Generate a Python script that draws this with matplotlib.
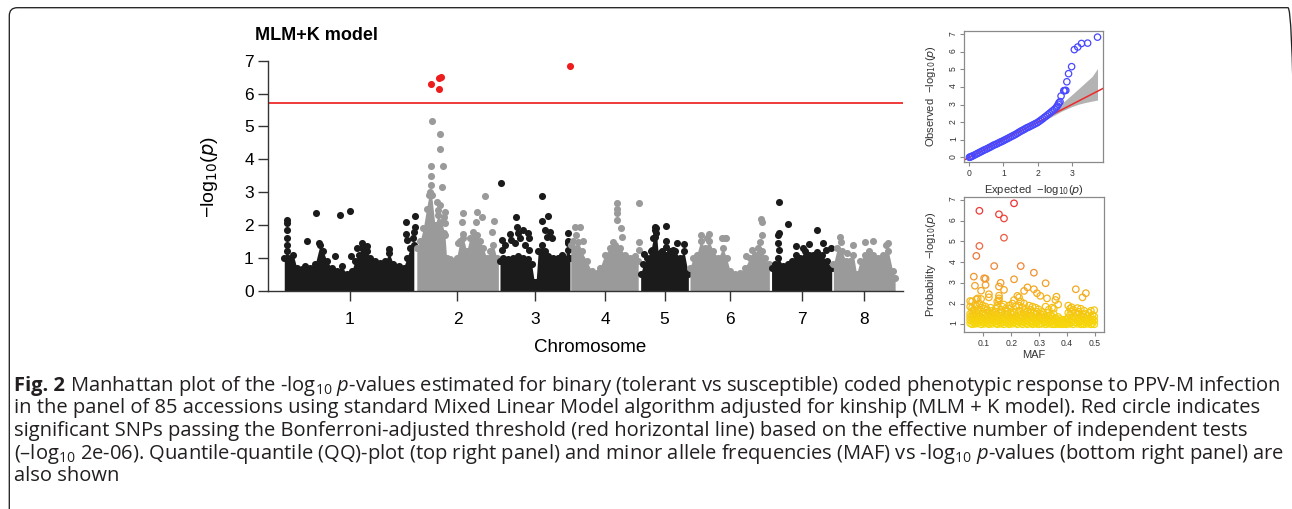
import numpy as np
import matplotlib
matplotlib.use("Agg")
import matplotlib.pyplot as plt
from matplotlib.colors import LinearSegmentedColormap
from matplotlib.patches import FancyBboxPatch
from matplotlib.transforms import IdentityTransform

plt.rcParams['font.family'] = ['Liberation Sans', 'DejaVu Sans']
plt.rcParams['mathtext.fontset'] = 'custom'
plt.rcParams['mathtext.rm'] = 'Open Sans'
plt.rcParams['mathtext.it'] = 'Open Sans:italic'
plt.rcParams['mathtext.bf'] = 'Open Sans:bold'

# Manhattan plot data (peach, 8 chromosomes, positions in Mb)
chrom_names = ['1', '2', '3', '4', '5', '6', '7', '8']
chrom_len = [48.5, 30.8, 26.3, 25.7, 18.1, 30.1, 22.9, 23.3]
threshold = 5.7  # -log10(2e-06)

# top of the dense cloud of non-significant SNPs, per chromosome
env_pos = [
    [0.0, 0.9, 2.1, 3.3, 4.6, 6.4, 7.7, 9.5, 11.4, 13.2, 14.4, 15.7, 17.5, 19.4, 21.2, 23.1,
     24.9, 26.1, 27.4, 28.6, 30.5, 31.7, 33.6, 35.4, 37.3, 38.7, 40.3, 42.2, 44.0, 45.3, 46.5, 47.8],
    [0.4, 1.6, 2.8, 4.0, 4.9, 5.9, 7.1, 8.3, 9.6, 10.8, 11.4, 12.6, 13.9, 15.1, 16.3, 17.6,
     18.8, 20.0, 21.3, 22.5, 23.7, 24.9, 26.2, 27.4, 28.6, 29.9, 30.5],
    [0.3, 1.5, 3.4, 5.2, 7.1, 8.9, 10.7, 12.0, 13.0, 13.6, 14.4, 15.7, 16.9, 18.1, 20.0, 21.8,
     23.0, 24.3, 25.5, 26.1],
    [0.1, 1.0, 2.3, 4.1, 6.0, 7.8, 9.7, 10.9, 12.7, 14.6, 16.4, 18.3, 20.1, 22.0, 23.8, 25.0],
    [0.2, 1.2, 2.6, 3.9, 4.9, 5.9, 6.7, 7.9, 9.5, 11.0, 12.9, 14.7, 16.2, 17.8],
    [0.3, 1.5, 2.8, 4.2, 5.8, 7.4, 8.9, 10.8, 12.4, 13.8, 15.1, 16.9, 18.8, 20.6, 22.4, 24.3,
     25.5, 26.7, 28.0, 29.6],
    [0.3, 1.6, 2.8, 4.6, 6.5, 7.7, 9.3, 10.8, 12.6, 14.2, 15.7, 16.9, 18.8, 20.6, 22.5],
    [0.2, 1.7, 3.3, 4.9, 6.3, 7.6, 8.8, 10.0, 11.9, 13.5, 15.0, 16.8, 18.6, 20.5, 22.1, 23.0],
]
env_top = [
    [1.0, 1.2, 1.0, 1.1, 0.7, 0.65, 0.75, 0.7, 0.8, 1.4, 1.2, 0.9, 0.7, 0.6, 0.75, 0.5,
     0.6, 0.9, 1.1, 1.3, 1.2, 1.0, 0.9, 0.85, 0.9, 1.15, 0.8, 0.75, 0.7, 1.0, 1.3, 1.4],
    [1.3, 1.5, 1.9, 2.5, 2.9, 2.9, 2.0, 2.3, 2.1, 1.7, 1.0, 0.95, 0.9, 1.0, 1.5, 1.6,
     1.2, 1.6, 1.8, 1.7, 1.5, 1.3, 1.0, 1.2, 1.4, 1.0, 0.9],
    [0.9, 1.0, 0.95, 1.0, 1.05, 1.0, 0.95, 0.8, 0.25, 0.25, 1.2, 1.4, 1.2, 1.05, 1.0, 1.0,
     1.1, 0.95, 1.5, 1.0],
    [1.4, 1.5, 1.3, 1.2, 0.9, 0.6, 0.55, 0.7, 1.1, 1.3, 1.4, 1.3, 1.1, 1.0, 1.05, 0.9],
    [0.5, 0.8, 1.0, 1.2, 1.6, 1.9, 1.1, 1.2, 1.1, 1.2, 1.2, 1.0, 1.2, 0.5],
    [0.7, 1.0, 1.1, 1.5, 1.3, 1.5, 1.2, 1.0, 1.3, 1.0, 0.6, 0.5, 0.55, 0.7, 1.0, 1.1,
     1.3, 1.2, 1.0, 0.8],
    [0.7, 0.8, 1.0, 0.75, 0.8, 0.9, 1.1, 1.0, 1.2, 1.1, 1.1, 1.0, 1.1, 0.9, 0.7],
    [0.8, 1.3, 1.2, 0.9, 0.9, 1.1, 0.5, 0.9, 1.1, 1.2, 1.1, 1.0, 1.1, 1.2, 0.6, 0.4],
]

# SNPs standing out above the cloud
snp_pos = [
    [1.0, 1.0, 1.1, 0.9, 0.9, 8.3, 11.7, 12.8, 18.7, 20.6, 24.2, 24.5, 26.7, 28.8, 30.7, 38.6,
     44.8, 44.8, 45.3, 48.3, 48.1, 47.9, 47.6],
    [5.9, 8.9, 8.9, 5.6, 10.2, 5.6, 5.6, 9.8, 5.3, 8.9, 10.8, 10.5, 10.8, 10.5, 17.6, 17.2,
     17.6, 15.7, 22.5, 24.3, 25.6, 29.0, 28.3, 22.1, 8.3, 7.7],
    [0.7, 0.9, 0.9, 4.0, 6.1, 6.4, 7.1, 7.7, 8.9, 10.5, 11.0, 11.0, 5.8, 9.5, 15.7, 15.9,
     17.9, 16.9, 17.5, 18.7, 19.4, 23.0, 25.5, 25.5, 25.5, 4.4, 2.1],
    [1.7, 3.5, 2.0, 2.9, 17.0, 17.3, 17.3, 17.3, 25.2, 18.5, 18.9, 15.8, 4.7, 25.4, 25.4],
    [1.4, 5.5, 5.5, 5.5, 4.3, 9.5, 9.5, 9.5, 13.5, 16.2, 12.0, 7.3, 5.9],
    [4.2, 7.4, 12.0, 13.5, 21.0, 23.1, 26.4, 26.7, 26.7, 26.1, 13.2, 6.5],
    [3.0, 3.2, 2.8, 2.8, 2.9, 6.2, 9.2, 14.0, 16.9, 19.4, 17.2, 22.1, 20.4, 12.0],
    [2.7, 2.9, 7.3, 11.9, 14.7, 19.5, 20.5, 5.1],
]
snp_logp = [
    [2.15, 2.05, 1.85, 1.61, 1.39, 1.51, 2.36, 1.46, 1.05, 2.31, 2.43, 1.06, 1.29, 1.46, 1.36, 1.26,
     2.10, 1.74, 1.55, 2.28, 1.95, 1.80, 1.60],
    [5.16, 4.76, 4.30, 3.80, 3.79, 3.49, 3.22, 3.16, 3.00, 2.61, 2.38, 2.25, 2.05, 1.76, 2.35, 2.08,
     1.74, 1.44, 2.40, 2.25, 2.88, 2.13, 1.80, 2.10, 2.45, 2.70],
    [3.27, 1.54, 1.24, 1.74, 2.25, 1.95, 1.76, 1.59, 1.85, 1.76, 1.59, 1.24, 1.44, 1.39, 2.89, 2.13,
     2.27, 1.85, 1.64, 1.80, 1.59, 1.05, 1.77, 1.44, 1.24, 1.55, 1.38],
    [1.95, 1.95, 1.69, 1.49, 2.68, 2.50, 2.35, 2.15, 2.66, 1.90, 1.64, 1.49, 1.50, 1.49, 1.24],
    [1.12, 1.95, 1.85, 1.64, 1.24, 1.97, 1.52, 1.34, 1.46, 1.41, 1.24, 1.14, 1.75],
    [1.71, 1.74, 1.59, 1.59, 1.06, 1.24, 2.18, 2.10, 1.69, 1.49, 1.59, 1.60],
    [2.71, 1.76, 1.69, 1.44, 1.24, 2.03, 1.37, 1.42, 1.85, 1.44, 1.19, 1.29, 1.25, 1.30],
    [1.64, 1.49, 1.39, 1.49, 1.52, 1.39, 1.44, 1.15],
]

# significant SNPs (above threshold)
sig_chrom = [2, 2, 2, 2, 3]
sig_pos = [5.6, 8.6, 9.2, 8.7, 26.0]
sig_logp = [6.28, 6.46, 6.50, 6.13, 6.84]

# QQ plot
qq_expected = [0.00, 0.03, 0.06, 0.10, 0.15, 0.20, 0.25, 0.30, 0.35, 0.40,
               0.45, 0.50, 0.55, 0.60, 0.65, 0.70, 0.75, 0.80, 0.85, 0.90,
               0.95, 1.00, 1.05, 1.10, 1.15, 1.20, 1.25, 1.30, 1.35, 1.40,
               1.45, 1.50, 1.55, 1.60, 1.65, 1.70, 1.75, 1.80, 1.85, 1.90,
               1.95, 2.00, 2.05, 2.10, 2.15, 2.20, 2.25, 2.30, 2.35, 2.40,
               2.45, 2.50, 2.55, 2.58, 2.61, 2.63, 2.66, 2.69, 2.77, 2.80,
               2.83, 2.86, 2.91, 3.00, 3.08, 3.18, 3.29, 3.47, 3.76]
qq_observed = [0.00, 0.02, 0.05, 0.08, 0.13, 0.18, 0.23, 0.28, 0.33, 0.38,
               0.43, 0.47, 0.52, 0.57, 0.62, 0.68, 0.72, 0.76, 0.81, 0.86,
               0.90, 0.95, 1.00, 1.05, 1.10, 1.15, 1.20, 1.25, 1.30, 1.36,
               1.42, 1.48, 1.53, 1.58, 1.64, 1.69, 1.73, 1.78, 1.83, 1.88,
               1.93, 1.98, 2.05, 2.12, 2.19, 2.27, 2.34, 2.42, 2.50, 2.58,
               2.66, 2.74, 2.84, 2.92, 3.02, 3.10, 3.17, 3.49, 3.79, 3.80,
               3.81, 4.30, 4.76, 5.16, 6.13, 6.28, 6.48, 6.50, 6.84]
band_expected = [2.1, 2.4, 2.7, 3.0, 3.2, 3.4, 3.6, 3.76]
band_upper = [2.15, 2.6, 3.05, 3.55, 3.9, 4.25, 4.6, 5.05]
band_lower = [2.05, 2.3, 2.62, 2.88, 3.02, 3.12, 3.2, 3.26]

# MAF vs -log10(p), SNPs grouped by MAF value
maf_levels = [0.053, 0.060, 0.066, 0.070, 0.075, 0.080, 0.086, 0.092, 0.098, 0.103,
              0.108, 0.114, 0.120, 0.126, 0.132, 0.139, 0.145, 0.150, 0.156, 0.162,
              0.168, 0.174, 0.180, 0.186, 0.192, 0.198, 0.204, 0.210, 0.216, 0.222,
              0.228, 0.234, 0.240, 0.246, 0.252, 0.258, 0.264, 0.270, 0.276, 0.281,
              0.287, 0.292, 0.298, 0.304, 0.310, 0.316, 0.323, 0.328, 0.334, 0.340,
              0.346, 0.352, 0.358, 0.362, 0.368, 0.374, 0.380, 0.386, 0.392, 0.398,
              0.404, 0.410, 0.416, 0.422, 0.431, 0.437, 0.443, 0.449, 0.455, 0.461,
              0.467, 0.473, 0.479, 0.485, 0.491, 0.497]
maf_logp = [
    [1.05, 1.2, 1.35, 1.5, 1.85, 2.12], [1.0, 1.15, 1.3, 1.45, 1.62, 1.8, 2.1],
    [1.08, 1.25, 1.4, 1.7, 3.3], [1.02, 1.18, 1.55, 1.95, 2.86],
    [1.1, 1.3, 1.45, 1.88, 2.2, 4.3], [1.04, 1.22, 1.38, 1.65, 2.25],
    [1.12, 1.28, 1.5, 2.0, 4.78, 6.48], [1.0, 1.18, 1.35, 1.8, 2.22, 2.62],
    [1.08, 1.26, 1.6, 1.9], [1.02, 1.15, 1.42, 1.75, 3.22],
    [1.1, 1.3, 1.52, 1.85, 2.9, 3.2], [1.05, 1.22, 1.4, 1.7],
    [1.0, 1.15, 1.35, 1.6, 2.3, 2.45], [1.08, 1.28, 1.48, 1.8],
    [1.02, 1.2, 1.4, 1.65], [1.12, 1.3, 1.55, 3.81],
    [1.05, 1.25, 1.45, 1.75], [1.0, 1.18, 1.35, 1.9, 2.1],
    [1.1, 1.3, 1.55, 2.15, 2.25, 2.38, 2.82, 6.31], [1.02, 1.22, 1.42, 1.7, 3.0],
    [1.08, 1.28, 1.6, 1.85], [1.0, 1.15, 1.38, 1.95, 2.66, 5.18, 6.11],
    [1.1, 1.25, 1.5, 1.75], [1.05, 1.2, 1.45, 1.62],
    [1.0, 1.15, 1.35, 1.9], [1.08, 1.3, 1.55, 1.78],
    [1.02, 1.22, 1.45, 2.0], [1.1, 1.28, 1.6, 2.17, 3.17, 6.84],
    [1.05, 1.2, 1.4, 1.85], [1.0, 1.18, 1.5, 2.37],
    [1.12, 1.3, 1.65, 1.9, 2.3], [1.06, 1.25, 1.45, 2.1, 3.81],
    [1.0, 1.15, 1.38, 1.8], [1.1, 1.3, 1.58, 2.0, 2.61],
    [1.04, 1.22, 1.45, 1.75], [1.0, 1.16, 1.35, 1.62, 2.78],
    [1.1, 1.28, 1.5, 1.9], [1.05, 1.2, 1.42, 1.7],
    [1.0, 1.15, 1.38, 1.85], [1.08, 1.3, 1.55, 2.69, 3.49],
    [1.02, 1.2, 1.45, 1.8], [1.1, 1.25, 1.6, 2.5],
    [1.0, 1.18, 1.4, 1.72], [1.06, 1.28, 1.5, 2.37],
    [1.02, 1.2, 1.35, 1.6], [1.1, 1.25, 1.48],
    [1.0, 1.15, 1.35, 1.85, 2.98], [1.08, 1.28, 1.55, 2.25],
    [1.02, 1.2, 1.4, 1.7], [1.1, 1.25, 1.45],
    [1.0, 1.18, 1.38, 1.8], [1.05, 1.22, 1.5, 1.75],
    [1.0, 1.12, 1.3, 2.17], [1.08, 1.25, 2.33],
    [1.02, 1.15, 1.35, 1.95], [1.0, 1.1, 1.25],
    [1.05, 1.18], [1.0, 1.12, 1.22],
    [1.04, 1.15], [1.0, 1.1, 1.25],
    [1.08, 1.3, 1.55, 1.9], [1.02, 1.2, 1.45, 1.75],
    [1.1, 1.28, 1.6, 1.82], [1.0, 1.15, 1.38, 1.7],
    [1.08, 1.3, 1.55, 2.69], [1.02, 1.2, 1.45, 1.78],
    [1.1, 1.25, 1.6], [1.0, 1.18, 1.4, 1.75],
    [1.05, 1.22, 1.5, 2.3], [1.0, 1.12, 1.35, 1.65],
    [1.08, 1.28, 1.5, 2.5], [1.02, 1.2, 1.4],
    [1.1, 1.25, 1.55], [1.0, 1.15, 1.35, 1.65],
    [1.05, 1.22, 1.45], [1.0, 1.18, 1.38, 1.68],
]

caption_head = 'Fig. 2'
caption = [
    r"Manhattan plot of the -log$_{10}$ $p$-values estimated for binary (tolerant vs susceptible) coded phenotypic response to PPV-M infection",
    r"in the panel of 85 accessions using standard Mixed Linear Model algorithm adjusted for kinship (MLM + K model). Red circle indicates",
    r"significant SNPs passing the Bonferroni-adjusted threshold (red horizontal line) based on the effective number of independent tests",
    r"(–log$_{10}$ 2e-06). Quantile-quantile (QQ)-plot (top right panel) and minor allele frequencies (MAF) vs -log$_{10}$ $p$-values (bottom right panel) are",
    r"also shown",
]

W, H = 1292, 509
fig = plt.figure(figsize=(W / 100, H / 100), dpi=100)


def rect(l, t, r, b):
    return [l / W, 1 - b / H, (r - l) / W, (b - t) / H]


# ---- Manhattan plot ----
ax = fig.add_axes(rect(268, 50.8, 903, 290.7))
starts = np.concatenate([[0], np.cumsum(chrom_len)[:-1]])
mids = starts + np.array(chrom_len) / 2
chrom_colors = ['#1b1b1b', '#9a9a9a']
for i in range(len(chrom_len)):
    col = chrom_colors[i % 2]
    x = np.array(env_pos[i]) + starts[i]
    ax.fill_between(x, 0, env_top[i], color=col, lw=0, zorder=2)
    ax.scatter(x, env_top[i], s=26, color=col, lw=0, zorder=2)
    ax.scatter(np.array(snp_pos[i]) + starts[i], snp_logp[i], s=26, color=col, lw=0, zorder=2)
sx = starts[np.array(sig_chrom) - 1] + np.array(sig_pos)
ax.scatter(sx, sig_logp, s=26, color='#ee1d1d', lw=0, zorder=3)
ax.axhline(threshold, color='#f03a3a', lw=1.4, zorder=1)

ax.set_xlim(-6.0, 228.3)
ax.set_ylim(0, 7.3)
ax.spines['top'].set_visible(False)
ax.spines['right'].set_visible(False)
ax.spines['left'].set_bounds(0, 7)
for s in ['left', 'bottom']:
    ax.spines[s].set_color('#333333')
    ax.spines[s].set_linewidth(1.0)
ax.set_yticks(range(8))
ax.set_xticks(mids)
ax.set_xticklabels(chrom_names)
ax.tick_params(axis='both', length=7.2, width=1.0, color='#333333', labelsize=12.5)
ax.tick_params(axis='x', pad=8)
ax.tick_params(axis='y', pad=3)

fig.text(255 / W, 1 - 35 / H, 'MLM+K model', fontsize=13, fontweight='bold', va='center', ha='left')
fig.text(590 / W, 1 - 348 / H, 'Chromosome', fontsize=13.5, va='center', ha='center')
fig.text(210 / W, 1 - 176.7 / H, r'−log$_{10}$($p$)', fontsize=14, rotation=90,
         va='center', ha='center', math_fontfamily='dejavusans')

# ---- QQ plot ----
grey = '#8a8a8a'
aq = fig.add_axes(rect(964.3, 31, 1103.3, 161.7))
aq.fill_between(band_expected, band_lower, band_upper, color='#b3b3b3', lw=0, zorder=1)
aq.axline((0, 0), slope=1, color='#ee2a2a', lw=1.1, zorder=2)
aq.scatter(qq_expected, qq_observed, s=21, facecolors='none', edgecolors='#4848ff', lw=0.9, zorder=3)
aq.set_xlim(-0.15, 3.93)
aq.set_ylim(-0.25, 7.19)
aq.set_xticks([0, 1, 2, 3])
aq.set_yticks(range(8))

# ---- MAF plot ----
am = fig.add_axes(rect(964.3, 196.7, 1104.3, 331.7))
cmap = LinearSegmentedColormap.from_list(
    'maf', [(0, '#f6d80a'), (0.2, '#f5b51a'), (0.42, '#f09030'), (0.7, '#ee5c42'), (1, '#ee3035')])
mx = np.concatenate([[m] * len(v) for m, v in zip(maf_levels, maf_logp)])
my = np.concatenate(maf_logp)
am.scatter(mx, my, s=22, facecolors='none', edgecolors=cmap(plt.Normalize(1, 6.9)(my)), lw=0.9)
am.set_xlim(0.032, 0.533)
am.set_ylim(0.64, 7.16)
am.set_xticks([0.1, 0.2, 0.3, 0.4, 0.5])
am.set_xticklabels(['0.1', '0.2', '0.3', '0.4', '0.5'])
am.set_yticks(range(1, 8))

for a in (aq, am):
    for s in a.spines.values():
        s.set_color(grey)
        s.set_linewidth(0.9)
    a.tick_params(axis='both', length=3, width=0.8, color=grey, labelsize=6.2, labelcolor='#333333')
    a.tick_params(axis='y', labelrotation=90, pad=1.5)
    a.tick_params(axis='x', pad=2.5)

fig.text(931 / W, 1 - 96.4 / H, r'Observed  −log$_{10}$($p$)', fontsize=8, rotation=90,
         va='center', ha='center', color='#333333', math_fontfamily='dejavusans')
fig.text(1034 / W, 1 - 189.8 / H, r'Expected  −log$_{10}$($p$)', fontsize=8,
         va='center', ha='center', color='#333333', math_fontfamily='dejavusans')
fig.text(931 / W, 1 - 264 / H, r'Probability  −log$_{10}$($p$)', fontsize=8, rotation=90,
         va='center', ha='center', color='#333333', math_fontfamily='dejavusans')
fig.text(1034 / W, 1 - 355 / H, 'MAF', fontsize=8, va='center', ha='center', color='#333333')

# ---- caption ----
cap_x = 14
cap_base = [391, 413.5, 436, 458.5, 481]
head = fig.text(cap_x / W, 1 - cap_base[0] / H, caption_head, family='Open Sans', fontweight='bold',
                fontsize=12, va='baseline', ha='left', color='#231f20')
texts = [fig.text(cap_x / W, 1 - b / H, s, family='Open Sans', fontsize=12, va='baseline',
                  ha='left', color='#231f20') for s, b in zip(caption, cap_base)]
fig.canvas.draw()
w_head = head.get_window_extent().width
w_line = texts[0].get_window_extent().width
size = 12 * 1262 / (w_head + w_line + 12 * 0.35)
head.set_fontsize(size)
for t in texts:
    t.set_fontsize(size)
fig.canvas.draw()
w_head = head.get_window_extent().width
texts[0].set_x((cap_x + w_head + size * 0.35) / W)

# rounded frame around the figure
frame = FancyBboxPatch((9.3, -20), 1286.7, 521.3, boxstyle='round,pad=0,rounding_size=8',
                       transform=IdentityTransform(), fill=False, ec='#222222', lw=0.95)
fig.add_artist(frame)

fig.savefig('out.png', dpi=100, facecolor='white')
